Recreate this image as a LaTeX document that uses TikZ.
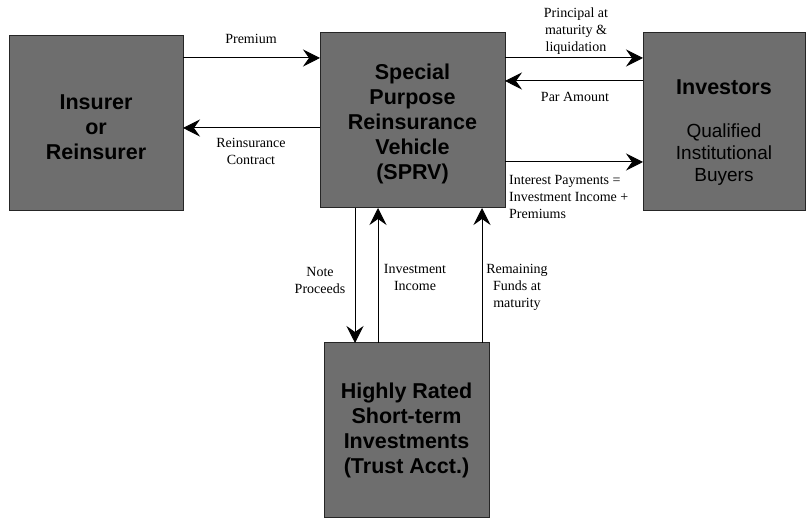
\documentclass[tikz,border=0pt]{standalone}
\usepackage{fontspec}
\setmainfont{Liberation Serif}
\newfontfamily\boxfont{Liberation Sans}
\usetikzlibrary{arrows.meta}
\tikzset{
  party/.style={draw=black!85, line width=1pt, fill=black!57, inner sep=0pt},
  boxtext/.style={font=\boxfont\bfseries\fontsize{21.5}{25}\selectfont, align=center, text=black},
  subtext/.style={font=\boxfont\fontsize{19}{22}\selectfont, align=center, text=black},
  flow/.style={line width=1pt, -{Stealth[length=17pt, width=17pt, inset=6pt]}},
  lbl/.style={font=\fontsize{14}{17}\selectfont, align=center, inner sep=0pt}
}
\begin{document}
\begin{tikzpicture}[x=1pt, y=-1pt]
\useasboundingbox (0,0) rectangle (807,529);

% boxes
\path[party] (9,36) rectangle (183,211);
\path[party] (320,33) rectangle (505,208);
\path[party] (643,33) rectangle (805,211);
\path[party] (324,343) rectangle (489,518);

% box texts
\node[boxtext] (insT) at (96,127) {Insurer\\or\\Reinsurer};
\node[boxtext] (sprvT) at (412.5,124) {Special\\Purpose\\Reinsurance\\Vehicle\\(SPRV)};
\node[boxtext] (invT) at (724,87) {Investors};
\node[subtext] (qibT) at (724,155) {Qualified\\Institutional\\Buyers};
\node[boxtext] (trT) at (406.5,430) {Highly Rated\\Short-term\\Investments\\(Trust Acct.)};

% anchor points on box edges
\coordinate (insP) at (183,58);
\coordinate (sprvP) at (320,58);
\coordinate (sprvR) at (320,128);
\coordinate (insR) at (183,128);
\coordinate (sprvA) at (505,58);
\coordinate (invA) at (643,58);
\coordinate (invB) at (643,81);
\coordinate (sprvB) at (505,81);
\coordinate (sprvC) at (505,162);
\coordinate (invC) at (643,162);
\coordinate (sprvN) at (355,208);
\coordinate (trN) at (355,343);
\coordinate (trI) at (378,343);
\coordinate (sprvI) at (378,208);
\coordinate (trF) at (482,343);
\coordinate (sprvF) at (482,208);

% flows
\draw[flow] (insP) -- (sprvP);
\draw[flow] (sprvR) -- (insR);
\draw[flow] (sprvA) -- (invA);
\draw[flow] (invB) -- (sprvB);
\draw[flow] (sprvC) -- (invC);
\draw[flow] (sprvN) -- (trN);
\draw[flow] (trI) -- (sprvI);
\draw[flow] (trF) -- (sprvF);

% labels
\node[lbl] (lPrem) at (251,39) {Premium};
\node[lbl] (lRe) at (251,151) {Reinsurance\\Contract};
\node[lbl] (lPrin) at (576,31) {Principal at\\maturity \&\\liquidation};
\node[lbl] (lPar) at (575,97) {Par Amount};
\node[lbl, align=left, anchor=north west] (lInt) at (509,175) {Interest Payments =\\Investment Income +\\Premiums};
\node[lbl] (lNote) at (320,280) {Note\\Proceeds};
\node[lbl] (lInc) at (415,277) {Investment\\Income};
\node[lbl] (lRem) at (517,287) {Remaining\\Funds at\\maturity};
\end{tikzpicture}
\end{document}
